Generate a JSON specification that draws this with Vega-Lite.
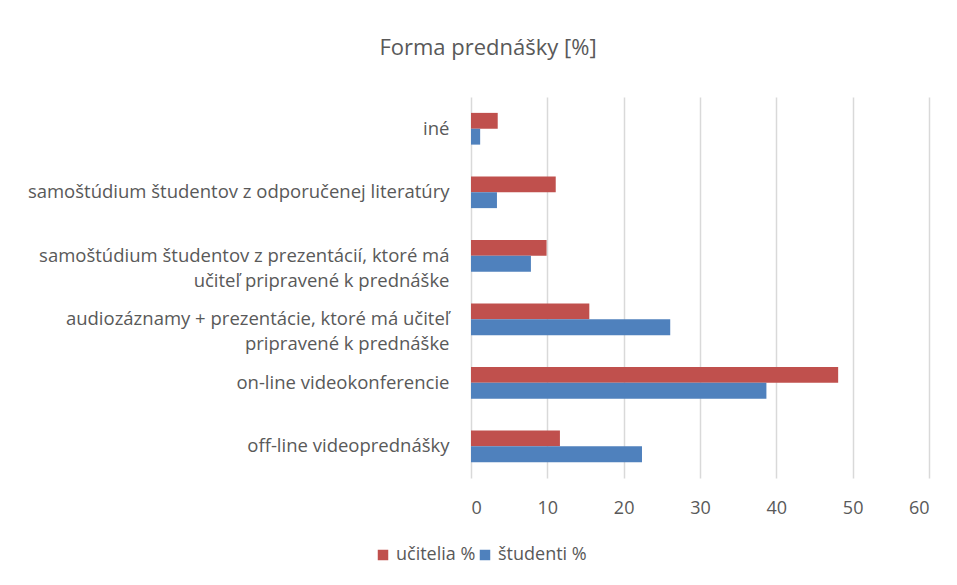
{
  "$schema": "https://vega.github.io/schema/vega-lite/v6.json",
  "width": 458,
  "height": 381,
  "autosize": {"type": "none"},
  "padding": {"left": 471, "top": 97, "right": 28, "bottom": 107},
  "background": "white",
  "title": {
    "text": "Forma prednášky [%]",
    "anchor": "middle",
    "dx": -212,
    "offset": 37,
    "font": "Open Sans",
    "fontSize": 22,
    "fontWeight": "normal",
    "color": "#595959"
  },
  "data": {
    "values": [
      {"forma": "iné", "skupina": "učitelia %", "hodnota": 3.5},
      {"forma": "iné", "skupina": "študenti %", "hodnota": 1.2},
      {"forma": "samoštúdium študentov z odporučenej literatúry", "skupina": "učitelia %", "hodnota": 11.1},
      {"forma": "samoštúdium študentov z odporučenej literatúry", "skupina": "študenti %", "hodnota": 3.4},
      {"forma": "samoštúdium študentov z prezentácií, ktoré má učiteľ pripravené k prednáške", "skupina": "učitelia %", "hodnota": 9.9},
      {"forma": "samoštúdium študentov z prezentácií, ktoré má učiteľ pripravené k prednáške", "skupina": "študenti %", "hodnota": 7.85},
      {"forma": "audiozáznamy + prezentácie, ktoré má učiteľ pripravené k prednáške", "skupina": "učitelia %", "hodnota": 15.5},
      {"forma": "audiozáznamy + prezentácie, ktoré má učiteľ pripravené k prednáške", "skupina": "študenti %", "hodnota": 26.1},
      {"forma": "on-line videokonferencie", "skupina": "učitelia %", "hodnota": 48.1},
      {"forma": "on-line videokonferencie", "skupina": "študenti %", "hodnota": 38.7},
      {"forma": "off-line videoprednášky", "skupina": "učitelia %", "hodnota": 11.65},
      {"forma": "off-line videoprednášky", "skupina": "študenti %", "hodnota": 22.4}
    ]
  },
  "mark": {"type": "bar"},
  "encoding": {
    "y": {
      "field": "forma",
      "type": "nominal",
      "sort": [
        "iné",
        "samoštúdium študentov z odporučenej literatúry",
        "samoštúdium študentov z prezentácií, ktoré má učiteľ pripravené k prednáške",
        "audiozáznamy + prezentácie, ktoré má učiteľ pripravené k prednáške",
        "on-line videokonferencie",
        "off-line videoprednášky"
      ],
      "scale": {"paddingInner": 0.5, "paddingOuter": 0.25},
      "axis": {
        "title": null,
        "domain": false,
        "ticks": false,
        "labelPadding": 22,
        "labelLimit": 480,
        "labelFont": "Open Sans",
        "labelFontSize": 18.5,
        "labelColor": "#595959",
        "labelLineHeight": 25,
        "labelExpr": "datum.label == 'samoštúdium študentov z prezentácií, ktoré má učiteľ pripravené k prednáške' ? ['samoštúdium študentov z prezentácií, ktoré má', 'učiteľ pripravené k prednáške'] : datum.label == 'audiozáznamy + prezentácie, ktoré má učiteľ pripravené k prednáške' ? ['audiozáznamy + prezentácie, ktoré má učiteľ', 'pripravené k prednáške'] : datum.label"
      }
    },
    "yOffset": {
      "field": "skupina",
      "type": "nominal",
      "sort": ["učitelia %", "študenti %"],
      "scale": {"paddingInner": 0, "paddingOuter": 0}
    },
    "x": {
      "field": "hodnota",
      "type": "quantitative",
      "scale": {"domain": [0, 60], "nice": false},
      "axis": {
        "title": null,
        "values": [0, 10, 20, 30, 40, 50, 60],
        "domain": false,
        "ticks": false,
        "labelPadding": 21,
        "labelFont": "Open Sans",
        "labelFontSize": 18,
        "labelColor": "#595959",
        "gridColor": "#D9D9D9",
        "gridWidth": 1.5
      }
    },
    "color": {
      "field": "skupina",
      "type": "nominal",
      "scale": {"domain": ["učitelia %", "študenti %"], "range": ["#C0504D", "#4F81BD"]},
      "legend": {
        "title": null,
        "orient": "none",
        "direction": "horizontal",
        "legendX": -97,
        "legendY": 449,
        "symbolType": "square",
        "symbolSize": 110,
        "symbolOpacity": 1,
        "symbolStrokeWidth": 0,
        "labelFont": "Open Sans",
        "labelFontSize": 18,
        "labelColor": "#595959",
        "columnPadding": 0,
        "labelOffset": 4
      }
    }
  },
  "config": {
    "view": {"stroke": null},
    "bar": {"stroke": null}
  }
}
